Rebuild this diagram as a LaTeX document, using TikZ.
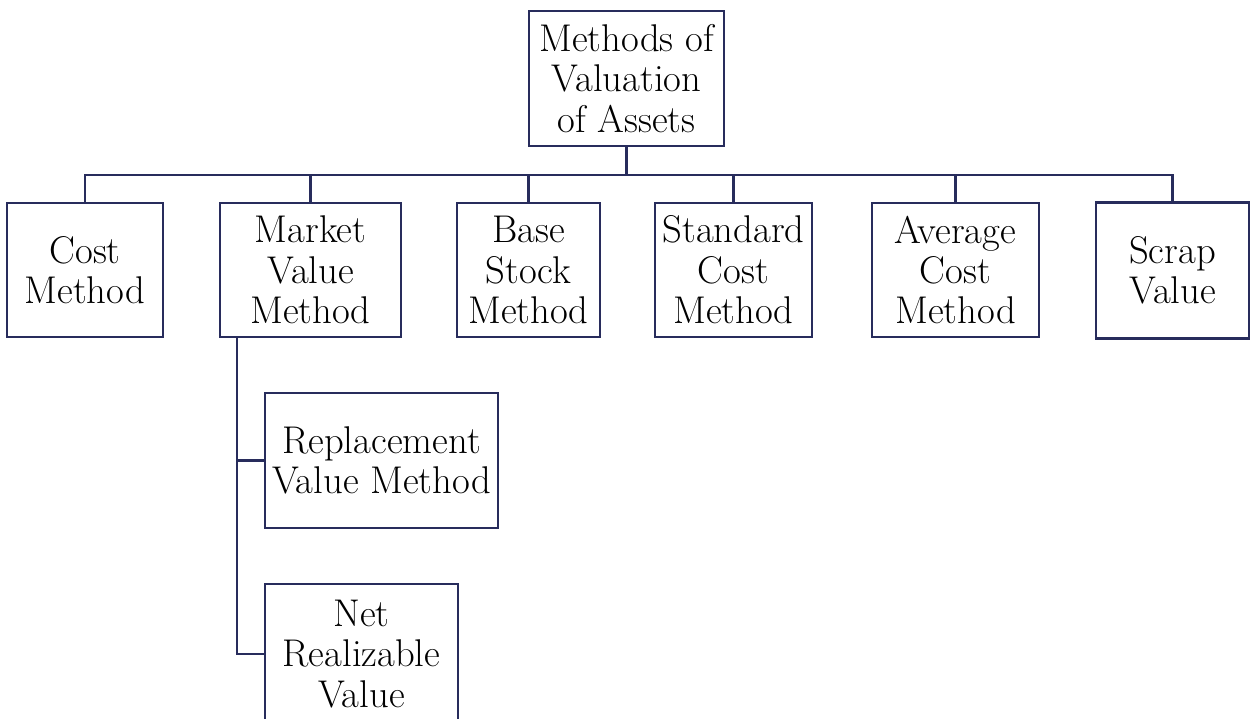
\documentclass[tikz,border=0pt]{standalone}
\usetikzlibrary{positioning}
\definecolor{framec}{RGB}{40,44,92}
\begin{document}
\begin{tikzpicture}[x=0.02cm, y=-0.02cm,
  box/.style={draw=framec, line width=1.2pt, align=center, inner sep=0pt,
    font=\fontsize{22}{23}\selectfont},
  link/.style={draw=framec, line width=1.2pt}]
\clip (0,0) rectangle (1254,718);
\node[box, minimum width=3.9cm, minimum height=2.7cm] (top) at (626.5,78.5) {Methods of\\Valuation\\of Assets};
\node[box, minimum width=3.12cm, minimum height=2.68cm] (cost) at (85,270) {Cost\\Method};
\node[box, minimum width=3.62cm, minimum height=2.68cm] (market) at (310.5,270) {Market\\Value\\Method};
\node[box, minimum width=2.86cm, minimum height=2.68cm] (base) at (528.5,270) {Base\\Stock\\Method};
\node[box, minimum width=3.14cm, minimum height=2.68cm] (standard) at (733.5,270) {Standard\\Cost\\Method};
\node[box, minimum width=3.34cm, minimum height=2.68cm] (average) at (955.5,270) {Average\\Cost\\Method};
\node[box, minimum width=3.06cm, minimum height=2.72cm] (scrap) at (1172.5,270.5) {Scrap\\Value};
\node[box, minimum width=4.66cm, minimum height=2.7cm] (repl) at (381.5,460.5) {Replacement\\Value Method};
\node[box, minimum width=3.86cm, minimum height=2.8cm] (net) at (361.5,654) {Net\\Realizable\\Value};
\coordinate (bus) at (626.5,175);
\coordinate (spine) at ([xshift=0.36cm]market.south west);
\draw[link] (top.south) -- (bus);
\foreach \n in {cost,market,base,standard,average,scrap}
  \draw[link] (\n.north) |- (bus);
\draw[link] (spine) |- (repl.west);
\draw[link] (spine) |- (net.west);
\end{tikzpicture}
\end{document}
